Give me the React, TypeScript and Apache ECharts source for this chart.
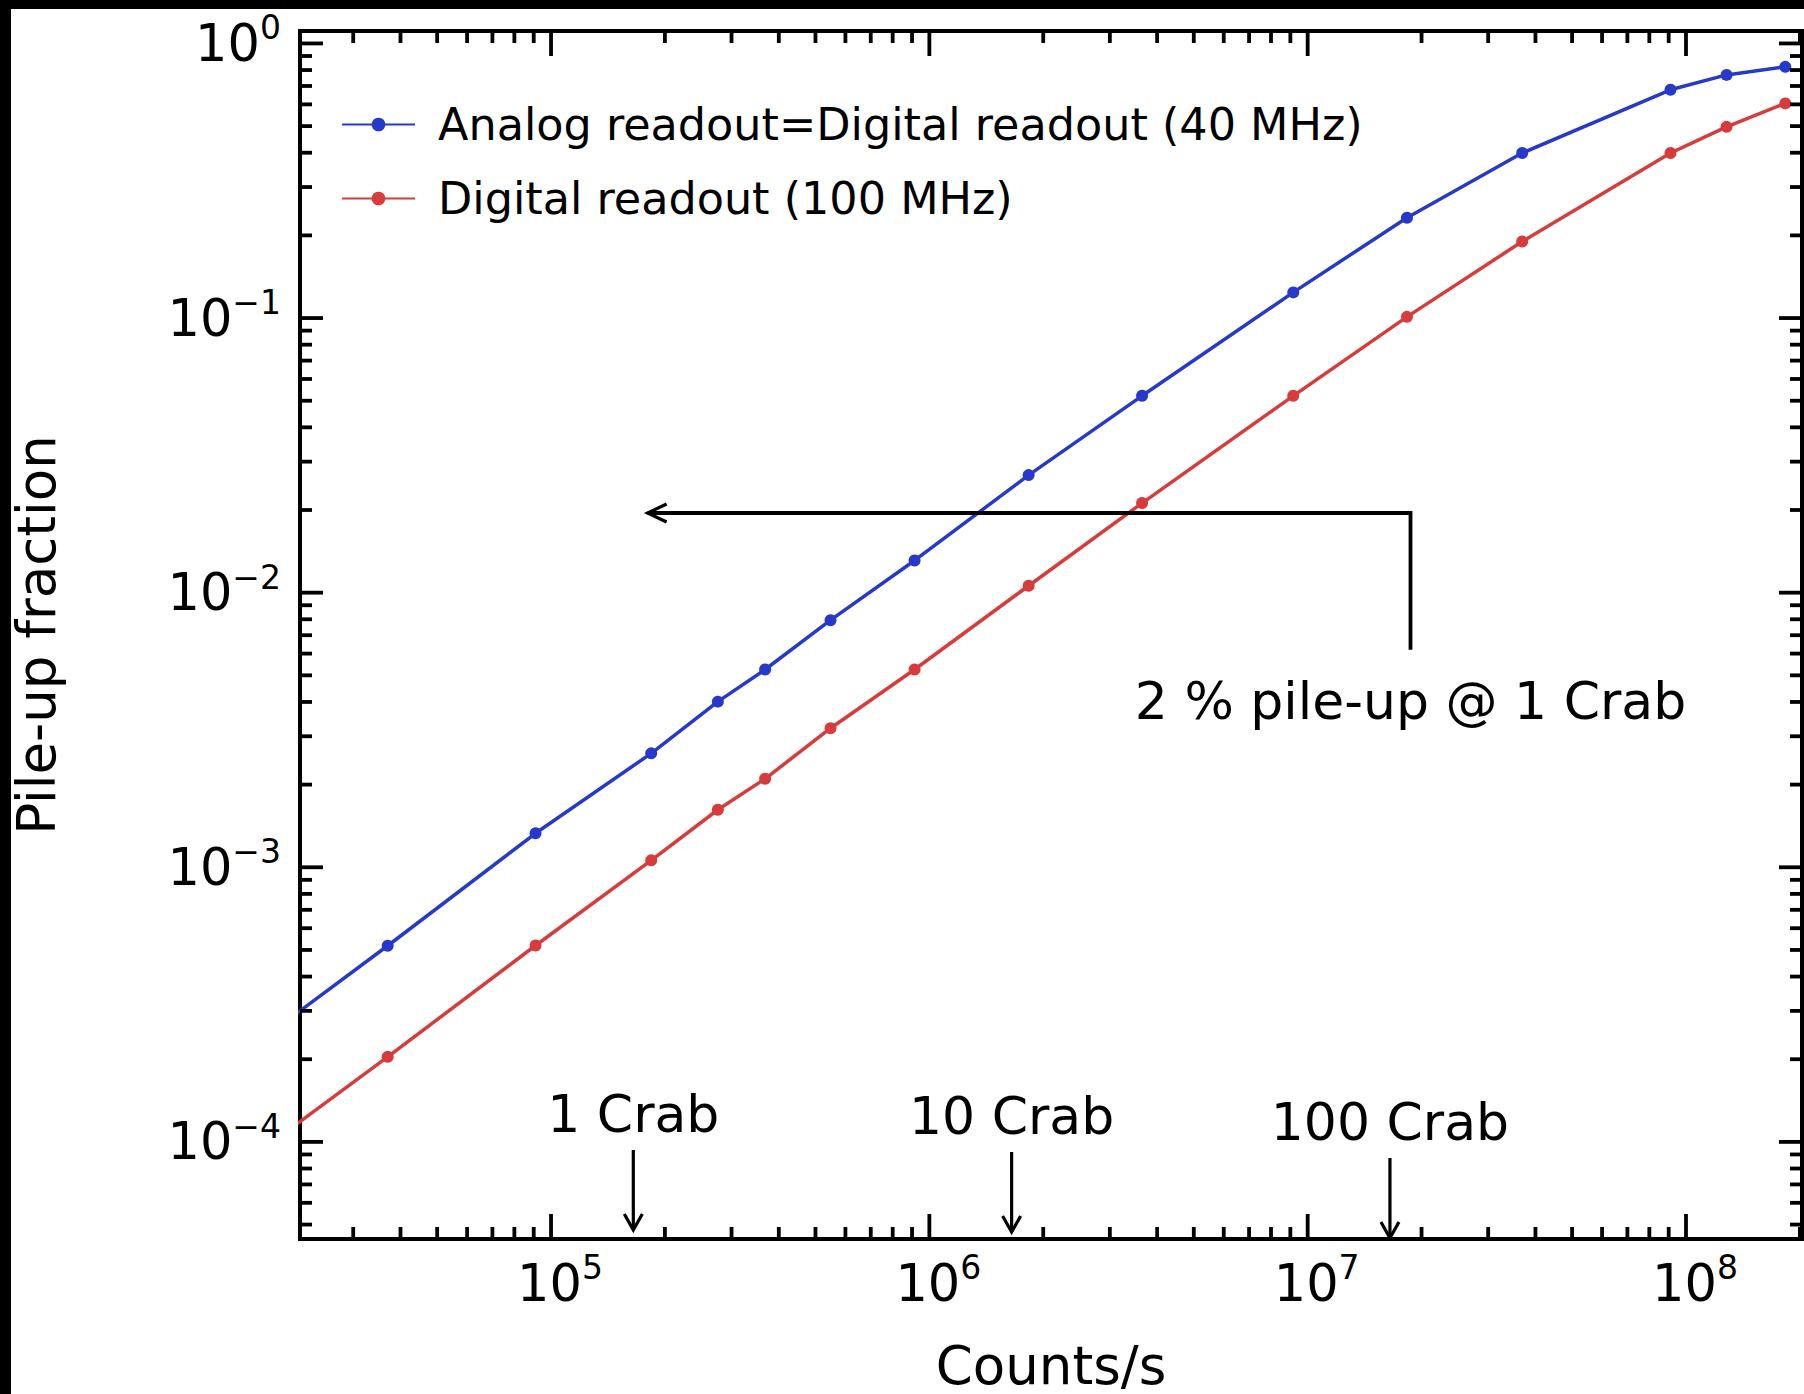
import React, { useEffect, useRef } from "react";
import * as echarts from "echarts";

// ---------------- data ----------------
const COUNTS = [2.0e4, 3.7e4, 9.1e4, 1.84e5, 2.76e5, 3.68e5, 5.48e5, 9.14e5, 1.83e6, 3.65e6, 9.16e6, 1.83e7, 3.69e7, 9.1e7, 1.28e8, 1.83e8];
const ANALOG_40MHZ = [2.76e-4, 5.18e-4, 1.33e-3, 2.6e-3, 4.01e-3, 5.25e-3, 7.94e-3, 1.31e-2, 2.68e-2, 5.21e-2, 0.124, 0.232, 0.399, 0.678, 0.768, 0.822];
const DIGITAL_100MHZ = [1.09e-4, 2.04e-4, 5.19e-4, 1.06e-3, 1.62e-3, 2.1e-3, 3.21e-3, 5.25e-3, 1.06e-2, 2.12e-2, 5.21e-2, 0.101, 0.19, 0.399, 0.497, 0.605];
const SERIES_NAMES = ["Analog readout=Digital readout (40 MHz)", "Digital readout (100 MHz)"];

const X_MIN = 2.17e4;
const X_MAX = 2.026e8;
const Y_MIN = 4.43e-5;
const Y_MAX = 1.11;

const X_MAJOR_TICKS = [1e5, 1e6, 1e7, 1e8];
const Y_MAJOR_TICKS = [1e-4, 1e-3, 1e-2, 1e-1, 1];
const X_DECADES = [1e4, 1e5, 1e6, 1e7, 1e8];
const Y_DECADES = [1e-5, 1e-4, 1e-3, 1e-2, 1e-1];
const MINOR_MULTIPLIERS = [2, 3, 4, 5, 6, 7, 8, 9];

const CRAB_RATES = [1.65e5, 1.65e6, 1.65e7];
const CRAB_LABELS = ["1 Crab", "10 Crab", "100 Crab"];

const PILEUP_LEVEL = 0.0195;
const PILEUP_FROM = 1.87e7;
const PILEUP_TO = 1.8e5;
const PILEUP_STEM_END = 6.2e-3;
const PILEUP_TEXT = "2 % pile-up @ 1 Crab";

const X_NAME = "Counts/s";
const Y_NAME = "Pile-up fraction";

// ---------------- style ----------------
const FONT = "'DejaVu Sans', sans-serif";
const BLUE = "#2639cc";
const RED = "#d83b3b";
const CRAB_DROP = [0, 2, 8]; // small vertical offsets of the Crab annotations (px)

const inRange = (v: number, lo: number, hi: number) => v > lo * 1.0001 && v < hi / 1.0001;

const X_MINOR = X_DECADES.flatMap((d) => MINOR_MULTIPLIERS.map((m) => m * d)).filter((v) => inRange(v, X_MIN, X_MAX));
const Y_MINOR = Y_DECADES.flatMap((d) => MINOR_MULTIPLIERS.map((m) => m * d)).filter((v) => inRange(v, Y_MIN, Y_MAX));

const powLabel = (v: number) => {
  const e = Math.round(Math.log10(v));
  const s = e < 0 ? "\u2212" + Math.abs(e) : String(e);
  return `{b|10}{s|${s}}`;
};

const yRich = {
  b: { fontSize: 51, fontFamily: FONT, color: "#000", lineHeight: 64 },
  s: { fontSize: 33, fontFamily: FONT, color: "#000", lineHeight: 34, verticalAlign: "top" },
};
const xRich = {
  b: { fontSize: 51, fontFamily: FONT, color: "#000", lineHeight: 64, padding: [0, 0, 0, 18] },
  s: { fontSize: 33, fontFamily: FONT, color: "#000", lineHeight: 34, verticalAlign: "top" },
};

export default function App() {
  const ref = useRef<HTMLDivElement>(null);

  useEffect(() => {
    if (!ref.current) return;
    const chart = echarts.init(ref.current, undefined, { renderer: "svg" });
    const TICK_W = 3.8;

    const option: any = {
      animation: false,
      backgroundColor: "#000000",
      graphic: {
        elements: [
          { type: "rect", z: -100, silent: true, shape: { x: 11, y: 9, width: 1793, height: 1385 }, style: { fill: "#ffffff" } },
        ],
      },
      grid: {
        show: true,
        left: 300,
        top: 31,
        right: 2,
        bottom: 155,
        containLabel: false,
        outerBoundsMode: "none",
        borderColor: "#000",
        borderWidth: 4,
        backgroundColor: "transparent",
      },
      legend: {
        orient: "vertical",
        left: 336,
        top: 97,
        itemWidth: 73,
        itemHeight: 17,
        itemGap: 29,
        data: SERIES_NAMES,
        textStyle: { fontSize: 44.5, fontFamily: FONT, color: "#000", lineHeight: 44, padding: [0, 0, 0, 18] },
      },
      xAxis: {
        type: "log",
        logBase: 10,
        min: X_MIN,
        max: X_MAX,
        name: X_NAME,
        nameLocation: "middle",
        nameGap: 100,
        nameTextStyle: { fontSize: 53, fontFamily: FONT, color: "#000", lineHeight: 52 },
        axisLine: { show: false },
        axisTick: { show: false },
        splitLine: { show: false },
        minorTick: { show: false },
        axisLabel: {
          margin: 12,
          showMinLabel: false,
          showMaxLabel: false,
          formatter: (v: number) => powLabel(v),
          rich: xRich,
        },
      },
      yAxis: {
        type: "log",
        logBase: 10,
        min: Y_MIN,
        max: Y_MAX,
        name: Y_NAME,
        nameLocation: "middle",
        nameRotate: 90,
        nameGap: 237,
        nameTextStyle: { fontSize: 53, fontFamily: FONT, color: "#000", lineHeight: 53 },
        axisLine: { show: false },
        axisTick: { show: false },
        splitLine: { show: false },
        minorTick: { show: false },
        axisLabel: {
          margin: 19,
          showMinLabel: false,
          showMaxLabel: false,
          formatter: (v: number) => powLabel(v),
          rich: yRich,
        },
      },
      series: [
        {
          name: SERIES_NAMES[0],
          type: "line",
          data: COUNTS.map((x, i) => [x, ANALOG_40MHZ[i]]),
          symbol: "circle",
          symbolSize: 12,
          color: BLUE,
          lineStyle: { width: 3.5, color: BLUE },
          itemStyle: { color: BLUE },
          clip: true,
          z: 3,
        },
        {
          name: SERIES_NAMES[1],
          type: "line",
          data: COUNTS.map((x, i) => [x, DIGITAL_100MHZ[i]]),
          symbol: "circle",
          symbolSize: 12,
          color: RED,
          lineStyle: { width: 3.5, color: RED },
          itemStyle: { color: RED },
          clip: true,
          z: 3,
        },
        // x-axis ticks (bottom + top), inside
        {
          type: "custom",
          silent: true,
          z: 5,
          data: [...X_MAJOR_TICKS.map((v) => [v, Y_MIN, 1]), ...X_MINOR.map((v) => [v, Y_MIN, 0])],
          renderItem: (params: any, api: any) => {
            const v = api.value(0);
            const len = api.value(2) === 1 ? 25 : 12;
            const b = api.coord([v, Y_MIN]);
            const t = api.coord([v, Y_MAX]);
            return {
              type: "group",
              children: [
                { type: "line", shape: { x1: b[0], y1: b[1], x2: b[0], y2: b[1] - len }, style: { stroke: "#000", lineWidth: TICK_W } },
                { type: "line", shape: { x1: t[0], y1: t[1], x2: t[0], y2: t[1] + len }, style: { stroke: "#000", lineWidth: TICK_W } },
              ],
            };
          },
        },
        // y-axis ticks (left + right), inside
        {
          type: "custom",
          silent: true,
          z: 5,
          data: [...Y_MAJOR_TICKS.map((v) => [X_MIN, v, 1]), ...Y_MINOR.map((v) => [X_MIN, v, 0])],
          renderItem: (params: any, api: any) => {
            const v = api.value(1);
            const len = api.value(2) === 1 ? 23 : 12;
            const l = api.coord([X_MIN, v]);
            const r = api.coord([X_MAX, v]);
            return {
              type: "group",
              children: [
                { type: "line", shape: { x1: l[0], y1: l[1], x2: l[0] + len, y2: l[1] }, style: { stroke: "#000", lineWidth: TICK_W } },
                { type: "line", shape: { x1: r[0], y1: r[1], x2: r[0] - len, y2: r[1] }, style: { stroke: "#000", lineWidth: TICK_W } },
              ],
            };
          },
        },
        // Crab markers
        {
          type: "custom",
          silent: true,
          z: 6,
          data: CRAB_RATES.map((x) => [x, Y_MIN]),
          renderItem: (params: any, api: any) => {
            const p = api.coord([api.value(0), api.value(1)]);
            const dy = CRAB_DROP[params.dataIndex] || 0;
            const tipY = p[1] - 9 + dy;
            const topY = tipY - 80;
            return {
              type: "group",
              children: [
                { type: "line", shape: { x1: p[0], y1: topY, x2: p[0], y2: tipY }, style: { stroke: "#000", lineWidth: 3.2 } },
                {
                  type: "polyline",
                  shape: { points: [[p[0] - 9, tipY - 16], [p[0], tipY], [p[0] + 9, tipY - 16]] },
                  style: { stroke: "#000", fill: null, lineWidth: 3.2 },
                },
                {
                  type: "text",
                  style: {
                    text: CRAB_LABELS[params.dataIndex],
                    x: p[0],
                    y: topY - 36,
                    align: "center",
                    verticalAlign: "middle",
                    fontSize: 52,
                    fontFamily: FONT,
                    fill: "#000",
                  },
                },
              ],
            };
          },
        },
        // 2 % pile-up annotation
        {
          type: "custom",
          silent: true,
          z: 6,
          data: [[PILEUP_FROM, PILEUP_LEVEL, PILEUP_TO, PILEUP_STEM_END]],
          renderItem: (params: any, api: any) => {
            const a = api.coord([api.value(0), api.value(3)]);
            const b = api.coord([api.value(0), api.value(1)]);
            const c = api.coord([api.value(2), api.value(1)]);
            return {
              type: "group",
              children: [
                { type: "polyline", shape: { points: [a, b, c] }, style: { stroke: "#000", fill: null, lineWidth: 3.8 } },
                {
                  type: "polyline",
                  shape: { points: [[c[0] + 19, c[1] - 9], [c[0], c[1]], [c[0] + 19, c[1] + 9]] },
                  style: { stroke: "#000", fill: null, lineWidth: 3.2 },
                },
                {
                  type: "text",
                  style: {
                    text: PILEUP_TEXT,
                    x: a[0],
                    y: a[1] + 51,
                    align: "center",
                    verticalAlign: "middle",
                    fontSize: 52,
                    fontFamily: FONT,
                    fill: "#000",
                  },
                },
              ],
            };
          },
        },
      ],
    };

    chart.setOption(option);
    return () => chart.dispose();
  }, []);

  return <div ref={ref} style={{ position: "absolute", left: 0, top: 0, width: 1804, height: 1394 }} />;
}
